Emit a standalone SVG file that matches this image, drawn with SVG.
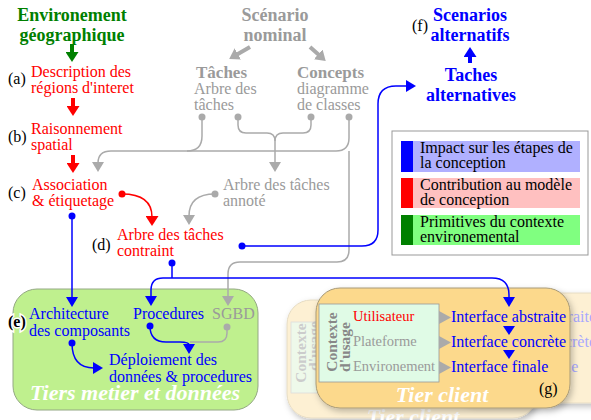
<svg xmlns="http://www.w3.org/2000/svg" width="591" height="420" viewBox="0 0 591 420">
<style>
text{font-family:"Liberation Serif","Times New Roman",serif;font-size:16px}
.h{font-weight:bold;font-size:18px;text-anchor:middle}
.h2{font-weight:bold;font-size:17px}
.g{fill:#9a9a9a}
.r{fill:#ff0000}
.bl{fill:#0000ff}
.gr{fill:#008000}
.k{fill:#000}
.lg{fill:none;stroke:#aaaaaa;stroke-width:1.5}
.lb{fill:none;stroke:#0000ff;stroke-width:1.5}
.lr{fill:none;stroke:#ff0000;stroke-width:1.5}
.tier{font-weight:bold;font-style:italic;font-size:22px;fill:#fff;text-anchor:middle}
.ctx{font-size:14.5px}
.rot{font-weight:bold;font-size:15.5px;text-anchor:middle}
.dg{fill:#aaaaaa}
.db{fill:#0000ff}
.dr{fill:#ff0000}
</style>
<defs>
<marker id="ag" markerUnits="userSpaceOnUse" markerWidth="10" markerHeight="12" viewBox="0 0 10 12" refX="1" refY="6" orient="auto"><path d="M0,0L10,6L0,12z" fill="#aaaaaa"/></marker>
<marker id="ab" markerUnits="userSpaceOnUse" markerWidth="10" markerHeight="12" viewBox="0 0 10 12" refX="1" refY="6" orient="auto"><path d="M0,0L10,6L0,12z" fill="#0000ff"/></marker>
<marker id="ar" markerUnits="userSpaceOnUse" markerWidth="10" markerHeight="13" viewBox="0 0 10 13" refX="1" refY="6.5" orient="auto"><path d="M0,0L10,6.5L0,13z" fill="#ff0000"/></marker>
<marker id="Bg" markerUnits="userSpaceOnUse" markerWidth="10" markerHeight="13" viewBox="0 0 10 13" refX="1" refY="6.5" orient="auto"><path d="M0,0L10,6.5L0,13z" fill="#aaaaaa"/></marker>
<marker id="Bgr" markerUnits="userSpaceOnUse" markerWidth="10" markerHeight="13" viewBox="0 0 10 13" refX="1" refY="6.5" orient="auto"><path d="M0,0L10,6.5L0,13z" fill="#008000"/></marker>
<marker id="Bb" markerUnits="userSpaceOnUse" markerWidth="10" markerHeight="13" viewBox="0 0 10 13" refX="1" refY="6.5" orient="auto"><path d="M0,0L10,6.5L0,13z" fill="#0000ff"/></marker>
<filter id="sh" x="-10%" y="-10%" width="130%" height="140%"><feDropShadow dx="2" dy="3" stdDeviation="3" flood-color="#000" flood-opacity="0.25"/></filter>
</defs>
<rect width="591" height="420" fill="#fff"/>

<!-- Containers -->
<g id="tiers-metier">
<rect x="13" y="289" width="245" height="121" rx="24" fill="#bff08e" stroke="#94a884" stroke-width="1"/>
<text class="tier" x="135" y="400">Tiers metier et données</text>
</g>
<g id="tier-client-back-left">
<rect x="287" y="300" width="250" height="118" rx="24" fill="#fdf0d3" stroke="#e6dcc4" stroke-width="1" filter="url(#sh)"/>
<rect x="291" y="322" width="30" height="71" fill="#eef9ea" stroke="#dddddd" stroke-width="0.8"/>
<text class="rot" fill="#cccccc" transform="translate(306,353) rotate(-90)">Contexte</text>
<text class="rot" fill="#cccccc" transform="translate(319,346) rotate(-90)">d'usage</text>
<text class="tier" x="413" y="424">Tier client</text>
</g>
<g id="tier-client-back-right">
<rect x="450" y="293" width="170" height="110" rx="24" fill="#fdf0d3" stroke="#e6dcc4" stroke-width="1" filter="url(#sh)"/>
<text x="481" y="322" fill="#a8a8ff">Interface abstraite</text>
<text x="481" y="347" fill="#a8a8ff">Interface concrète</text>
<text x="481" y="372" fill="#a8a8ff">Interface finale</text>
</g>
<g id="tier-client">
<rect x="316" y="288" width="254" height="120" rx="24" fill="#fcd98c" stroke="#a89a78" stroke-width="1" filter="url(#sh)"/>
<rect x="319" y="304" width="120" height="78" fill="#e0fbe6" stroke="#999999" stroke-width="0.8"/>
<text class="rot" fill="#888888" transform="translate(337,342) rotate(-90)">Contexte</text>
<text class="rot" fill="#888888" transform="translate(350,347) rotate(-90)">d'usage</text>
<text class="ctx r" x="353" y="321">Utilisateur</text>
<text class="ctx g" x="353" y="346">Plateforme</text>
<text class="ctx g" x="353" y="371">Environement</text>
<polygon points="439,311 451,317.5 439,324" fill="#aaaaaa"/>
<polygon points="439,336 451,342.5 439,349" fill="#aaaaaa"/>
<polygon points="439,361 451,367.5 439,374" fill="#aaaaaa"/>
<text class="bl" x="451" y="322">Interface abstraite</text>
<text class="bl" x="451" y="347">Interface concrète</text>
<text class="bl" x="451" y="372">Interface finale</text>
<polygon points="503,326 515,326 509,335" fill="#0000ff"/>
<polygon points="503,350 515,350 509,359" fill="#0000ff"/>
<text class="tier" x="442" y="402">Tier client</text>
<text class="k" x="539" y="394">(g)</text>
</g>

<!-- Legend -->
<g id="legend">
<rect x="392" y="131" width="196" height="124" fill="#fff" stroke="#999999" stroke-width="1"/>
<rect x="401" y="141" width="179" height="31" fill="#b0b0ff"/>
<rect x="401" y="141" width="12" height="31" fill="#0000ff"/>
<text class="k" x="420" y="153">Impact sur les étapes de</text>
<text class="k" x="420" y="168">la conception</text>
<rect x="401" y="178" width="179" height="30" fill="#ffc0c0"/>
<rect x="401" y="178" width="12" height="30" fill="#ff0000"/>
<text class="k" x="420" y="190">Contribution au modèle</text>
<text class="k" x="420" y="205">de conception</text>
<rect x="401" y="215" width="179" height="30" fill="#80ff80"/>
<rect x="401" y="215" width="12" height="30" fill="#008000"/>
<text class="k" x="420" y="227">Primitives du contexte</text>
<text class="k" x="420" y="242">environemental</text>
</g>

<!-- Connectors -->
<g id="connectors">
<path d="M72,44V53" stroke="#008000" stroke-width="4" marker-end="url(#Bgr)"/>
<path d="M73,98V107" stroke="#ff0000" stroke-width="4" marker-end="url(#ar)"/>
<path d="M73,155V164" stroke="#ff0000" stroke-width="4" marker-end="url(#ar)"/>
<path d="M470,63V56" stroke="#0000ff" stroke-width="4" marker-end="url(#Bb)"/>
<path d="M250,47L237,54.5" stroke="#aaaaaa" stroke-width="4" marker-end="url(#Bg)"/>
<path d="M310,47L319,55" stroke="#aaaaaa" stroke-width="4" marker-end="url(#Bg)"/>

<path class="lg" d="M349,117V138Q349,151 336,151H111Q98,151 98,163" marker-end="url(#ag)"/>
<path class="lg" d="M202,117V136Q202,151 187,151"/>
<path class="lg" d="M238,117V125Q238,133 246,133H267Q275,133 275,141V163" marker-end="url(#ag)"/>
<path class="lg" d="M311,117V125Q311,133 303,133H283Q275,133 275,141"/>
<path class="lg" d="M349,151V250Q349,262 337,262H240Q228,262 228,274V297" marker-end="url(#ag)"/>
<path class="lg" d="M215,194Q189,194 189,216" marker-end="url(#ag)"/>
<path class="lr" d="M122,194Q152,194 152,217" marker-end="url(#ar)"/>

<path class="lb" d="M72,216V298" marker-end="url(#ab)"/>
<path class="lb" d="M172,263V278"/>
<path class="lb" d="M172,278H163Q151,278 151,290V297" marker-end="url(#ab)"/>
<path class="lb" d="M172,278H492Q509,278 509,295V298" marker-end="url(#ab)"/>
<path class="lb" d="M242,246H362Q378,246 378,230V104Q378,86 396,86H407" marker-end="url(#ab)"/>
<path class="lg" d="M227,327V333Q227,342 218,342H190"/>
<path class="lb" d="M150,326Q150,342 166,342H180Q189,342 189,345" marker-end="url(#ab)"/>
<path class="lb" d="M72,343Q72,368 94,368" marker-end="url(#ab)"/>

<circle class="dg" cx="202" cy="117" r="3.5"/>
<circle class="dg" cx="238" cy="117" r="3.5"/>
<circle class="dg" cx="311" cy="117" r="3.5"/>
<circle class="dg" cx="349" cy="117" r="3.5"/>
<circle class="dg" cx="215" cy="194" r="3.5"/>
<circle class="dg" cx="227" cy="327" r="3.5"/>
<circle class="dr" cx="122" cy="194" r="3.5"/>
<circle class="db" cx="72" cy="216" r="3.5"/>
<circle class="db" cx="172" cy="263" r="3.5"/>
<circle class="db" cx="242" cy="246" r="3.5"/>
<circle class="db" cx="150" cy="326" r="3.5"/>
<circle class="db" cx="72" cy="343" r="3.5"/>
</g>

<!-- Nodes -->
<g id="env-geo">
<text class="h gr" x="72" y="21">Environement</text>
<text class="h gr" x="72" y="41">géographique</text>
</g>
<g id="node-a">
<text class="k" x="8" y="84">(a)</text>
<text class="r" x="31" y="77">Description des</text>
<text class="r" x="31" y="93">régions d'interet</text>
</g>
<g id="node-b">
<text class="k" x="8" y="142">(b)</text>
<text class="r" x="31" y="134">Raisonnement</text>
<text class="r" x="31" y="150">spatial</text>
</g>
<g id="node-c">
<text class="k" x="8" y="198">(c)</text>
<text class="r" x="32" y="190">Association</text>
<text class="r" x="32" y="206">&amp; étiquetage</text>
</g>
<g id="node-d">
<text class="k" x="92" y="250">(d)</text>
<text class="r" x="117" y="240">Arbre des tâches</text>
<text class="r" x="117" y="256">contraint</text>
</g>
<g id="scenario-nominal">
<text class="h g" x="275" y="21">Scénario</text>
<text class="h g" x="275" y="41">nominal</text>
</g>
<g id="taches">
<text class="h2 g" x="196" y="78">Tâches</text>
<text class="g" x="194" y="94">Arbre des</text>
<text class="g" x="194" y="110">tâches</text>
</g>
<g id="concepts">
<text class="h2 g" x="297" y="78">Concepts</text>
<text class="g" x="297" y="94">diagramme</text>
<text class="g" x="297" y="110">de classes</text>
</g>
<g id="arbre-annote">
<text class="g" x="223" y="190">Arbre des tâches</text>
<text class="g" x="223" y="206">annoté</text>
</g>
<g id="scenarios-alt">
<text class="k" x="412" y="31">(f)</text>
<text class="h bl" x="470" y="21">Scenarios</text>
<text class="h bl" x="470" y="41">alternatifs</text>
</g>
<g id="taches-alt">
<text class="h bl" x="471" y="81">Taches</text>
<text class="h bl" x="471" y="101">alternatives</text>
</g>
<g id="node-e">
<text class="k" x="8" y="327" stroke="#fff" stroke-width="3" paint-order="stroke" font-weight="bold">(e)</text>
<text class="bl" x="29" y="319">Architecture</text>
<text class="bl" x="29" y="336">des composants</text>
<text class="bl" x="133" y="319">Procedures</text>
<text class="g" x="212" y="319" font-size="14.5">SGBD</text>
<text class="bl" x="109" y="365">Déploiement des</text>
<text class="bl" x="109" y="382">données &amp; procedures</text>
</g>
</svg>
